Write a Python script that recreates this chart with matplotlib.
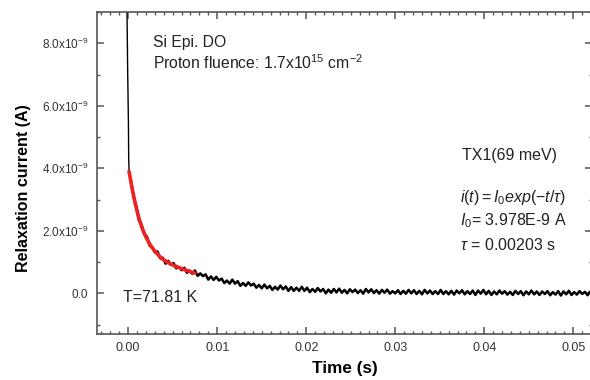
import numpy as np
import matplotlib
matplotlib.use("Agg")
import matplotlib.pyplot as plt
from matplotlib.ticker import MultipleLocator, FuncFormatter

plt.rcParams['font.family'] = ['Liberation Sans', 'DejaVu Sans']
plt.rcParams['mathtext.fontset'] = 'custom'
plt.rcParams['mathtext.rm'] = 'Liberation Sans'
plt.rcParams['mathtext.it'] = 'Liberation Sans:italic'

# --- datos (corriente en unidades de 1e-9 A) ---
# pico inicial
t_pico = [-0.00015, -0.00005, 0.00003, 0.00006, 0.0001, 0.0003]
i_pico = [9.50, 7.00, 5.45, 4.30, 3.95, 3.63]

# traza medida, muestreo uniforme cada 0.3 ms desde 0.3 ms
paso = 0.0003
i_medida = [
    3.63, 3.09, 2.79, 2.34, 2.20, 1.90, 1.82, 1.53, 1.48, 1.31,
    1.34, 1.12, 1.14, 0.95, 1.04, 0.91, 0.97, 0.80, 0.84, 0.74,
    0.82, 0.66, 0.73, 0.63, 0.73, 0.56, 0.64, 0.55, 0.61, 0.44,
    0.54, 0.43, 0.53, 0.41, 0.47, 0.33, 0.41, 0.31, 0.44, 0.31,
    0.39, 0.24, 0.33, 0.24, 0.35, 0.25, 0.31, 0.18, 0.27, 0.16,
    0.28, 0.16, 0.24, 0.11, 0.21, 0.12, 0.25, 0.13, 0.22, 0.08,
    0.20, 0.08, 0.18, 0.08, 0.21, 0.08, 0.18, 0.04, 0.14, 0.05,
    0.17, 0.06, 0.14, 0.00, 0.12, 0.02, 0.14, 0.03, 0.15, 0.02,
    0.11, 0.00, 0.13, 0.04, 0.12, 0.01, 0.10, -0.01, 0.14, 0.03,
    0.13, 0.01, 0.10, -0.01, 0.11, 0.02, 0.12, -0.01, 0.07, 0.00,
    0.10, -0.02, 0.08, -0.01, 0.11, 0.00, 0.10, -0.02, 0.08, -0.03,
    0.11, 0.00, 0.09, -0.02, 0.07, -0.02, 0.11, -0.02, 0.07, -0.03,
    0.08, -0.04, 0.09, 0.00, 0.10, -0.03, 0.07, -0.02, 0.09, -0.05,
    0.09, -0.01, 0.11, -0.03, 0.08, -0.05, 0.06, -0.03, 0.09, -0.01,
    0.07, -0.04, 0.05, -0.05, 0.08, -0.02, 0.07, -0.06, 0.06, -0.03,
    0.09, -0.03, 0.06, -0.05, 0.06, -0.02, 0.07, -0.06, 0.04, -0.04,
    0.07, -0.07, 0.06, -0.03, 0.08, -0.05, 0.04, -0.04, 0.07, -0.02,
    0.05, -0.06, 0.06, -0.03,
]

# ajuste exponencial (curva roja)
t_ajuste = [0.0001, 0.0004, 0.0008, 0.0012, 0.0016, 0.002, 0.0025, 0.003, 0.0035,
            0.004, 0.0045, 0.005, 0.0055, 0.006, 0.0065, 0.007, 0.0075]
i_ajuste = [3.90, 3.42, 2.87, 2.41, 2.06, 1.80, 1.54, 1.35, 1.19,
            1.07, 0.98, 0.91, 0.85, 0.79, 0.74, 0.69, 0.65]

marcas_y = [0.0, 2.0, 4.0, 6.0, 8.0]

escala = 1e-9
t_medida = paso * (np.arange(len(i_medida)) + 1)

fig = plt.figure(figsize=(5.9, 3.8), dpi=100)
ax = fig.add_axes([97 / 590, 46 / 380, 495 / 590, 322 / 380])

ax.plot(t_pico, np.array(i_pico) * escala, color='black', linewidth=1.0)
ax.plot(t_medida, np.array(i_medida) * escala, color='black', linewidth=1.8)
ax.plot(t_ajuste, np.array(i_ajuste) * escala, color='#ee2020', linewidth=2.6,
        solid_capstyle='round')

ax.set_xlim(-0.0035, 0.0521)
ax.set_ylim(-1.3e-9, 9e-9)

ax.xaxis.set_major_locator(MultipleLocator(0.01))
ax.xaxis.set_minor_locator(MultipleLocator(0.001))
ax.set_yticks(np.array(marcas_y) * escala)
ax.yaxis.set_minor_locator(MultipleLocator(1e-9))
ax.xaxis.set_major_formatter(FuncFormatter(lambda v, p: f"{v:.2f}"))


def formato_y(v, p):
    if abs(v) < 1e-15:
        return "0.0"
    return f"{v / 1e-9:.1f}x10$^{{-9}}$"


ax.yaxis.set_major_formatter(FuncFormatter(formato_y))

gris = '#555555'
for lado in ax.spines.values():
    lado.set_color(gris)
    lado.set_linewidth(1.2)
ax.tick_params(which='both', direction='in', top=True, right=True, color=gris,
               labelcolor='#333333')
ax.tick_params(which='major', length=5, width=1.1)
ax.tick_params(which='minor', length=2.5, width=1.0)
ax.tick_params(axis='x', pad=6, labelsize=9)
ax.tick_params(axis='y', pad=6.5, labelsize=8.5)

ax.set_xlabel("Time (s)", fontsize=12.3, fontweight='bold', labelpad=5)
ax.set_ylabel("Relaxation current (A)", fontsize=11.5, fontweight='bold')
ax.yaxis.set_label_coords(-0.133, 0.453)

# anotaciones
kw = dict(transform=fig.transFigure, color='#222222', va='center', ha='left')
fig.text(153 / 590, 1 - 42 / 380, "Si Epi. DO", fontsize=11.3, **kw)
fig.text(153 / 590, 1 - 63 / 380, "Proton fluence: 1.7x10$^{15}$ cm$^{-2}$", fontsize=11.3, **kw)
fig.text(462 / 590, 1 - 155 / 380, "TX1(69 meV)", fontsize=11.5, **kw)
fig.text(460 / 590, 1 - 198 / 380, r"$\mathit{i(t){=}I_0exp({-}t/\tau)}$", fontsize=11.5, **kw)
fig.text(460 / 590, 1 - 221 / 380, r"$\mathit{I_0}$= 3.978E-9 A", fontsize=11.5, **kw)
fig.text(460 / 590, 1 - 245 / 380, r"$\tau$ = 0.00203 s", fontsize=11.5, **kw)
fig.text(123 / 590, 1 - 298 / 380, "T=71.81 K", fontsize=11.5, **kw)

fig.savefig("out.png", dpi=100)
